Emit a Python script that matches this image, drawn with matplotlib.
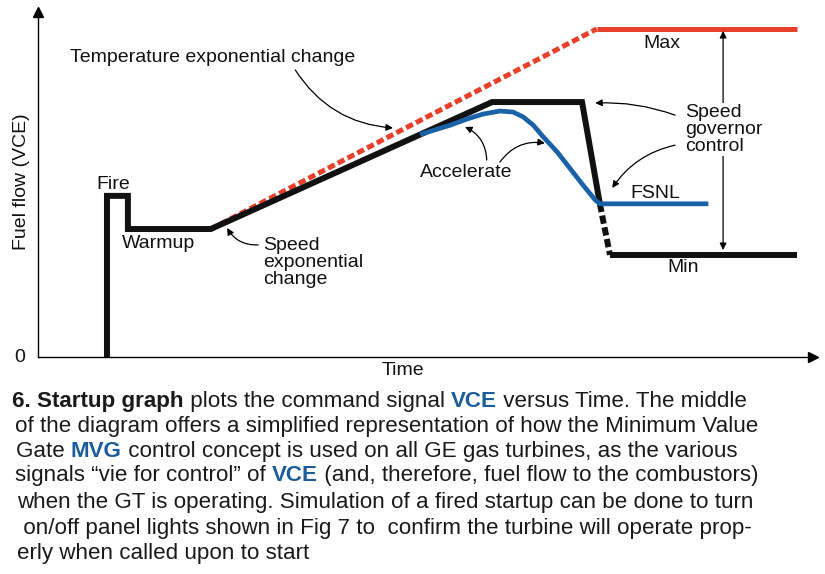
import matplotlib
matplotlib.use("Agg")
import matplotlib.pyplot as plt

# ---- data (time and fuel flow in arbitrary 0-100 units) ----
vce_t = [8.9, 8.9, 11.6, 11.6, 22.3, 58.6, 70.2, 72.5]
vce_f = [0, 46.7, 46.7, 37.1, 37.1, 73.9, 73.9, 44.4]
drop_t = [72.5, 73.8]
drop_f = [44.4, 29.6]
min_t = [73.8, 97.9]
min_f = [29.6, 29.6]
temp_t = [22.3, 72.1]
temp_f = [37.1, 95.1]
max_t = [72.1, 97.9]
max_f = [95.1, 95.1]
accel_t = [49.3, 53.2, 55.4, 57.4, 59.6, 61.3, 62.6, 63.9, 65.2, 67.0, 68.6, 70.3, 71.9, 72.5, 86.5]
accel_f = [64.5, 67.2, 69.0, 70.4, 71.3, 71.0, 69.6, 67.2, 63.8, 59.4, 54.8, 49.9, 45.5, 44.4, 44.4]

caption = [
    [("6. Startup graph", "k", "bold"), (" plots the command signal ", "k", "normal"),
     ("VCE", "b", "bold"), (" versus Time. The middle", "k", "normal")],
    [("of the diagram offers a simplified representation of how the Minimum Value", "k", "normal")],
    [("Gate ", "k", "normal"), ("MVG", "b", "bold"),
     (" control concept is used on all GE gas turbines, as the various", "k", "normal")],
    [("signals \u201cvie for control\u201d of ", "k", "normal"), ("VCE", "b", "bold"),
     (" (and, therefore, fuel flow to the combustors)", "k", "normal")],
    [("when the GT is operating. Simulation of a fired startup can be done to turn", "k", "normal")],
    [(" on/off panel lights shown in Fig 7 to  confirm the turbine will operate prop-", "k", "normal")],
    [("erly when called upon to start", "k", "normal")],
]
caption_x = [12, 15, 16, 15, 17, 17, 17]
caption_base = [407, 432, 457, 481, 508, 534, 559]

BLACK = "#111111"
RED = "#e8402a"
BLUE = "#1a62a8"
TXT_BLUE = "#1d5c9a"
FONT = "Liberation Sans"

W, H = 825, 574
fig = plt.figure(figsize=(W / 100, H / 100), dpi=100)
ax = fig.add_axes([38 / W, (H - 357) / H, 775 / W, 345 / H])
ax.set_xlim(0, 100)
ax.set_ylim(0, 100)
ax.set_xticks([])
ax.set_yticks([])
for s in ["top", "right"]:
    ax.spines[s].set_visible(False)
for s in ["left", "bottom"]:
    ax.spines[s].set_linewidth(1.0)
ax.plot(1, 0, ">k", ms=7, transform=ax.transAxes, clip_on=False)
ax.plot(0, 1, "^k", ms=7, transform=ax.transAxes, clip_on=False)

# lines
ax.plot(temp_t, temp_f, color=RED, lw=3.6, dashes=(1.5, 0.7), solid_capstyle="butt")
ax.plot(max_t, max_f, color=RED, lw=3.6, solid_capstyle="butt")
ax.plot(vce_t, vce_f, color=BLACK, lw=4.3, solid_joinstyle="miter", solid_capstyle="butt")
ax.plot(drop_t, drop_f, color=BLACK, lw=4.3, dashes=(1.4, 0.6))
ax.plot(min_t, min_f, color=BLACK, lw=4.3, solid_capstyle="butt")
ax.plot(accel_t, accel_f, color=BLUE, lw=3.4, solid_capstyle="butt")

tkw = dict(fontsize=14, family=FONT, color="#111111")
arw = dict(arrowstyle="-|>", color="k", lw=0.9, mutation_scale=10, shrinkA=0, shrinkB=0)

ax.text(4.1, 86.7, "Temperature exponential change", ha="left", va="center", **tkw)
ax.annotate("", xy=(45.8, 66.4), xytext=(33.2, 83.2),
            arrowprops=dict(arw, connectionstyle="arc3,rad=0.25"))
ax.text(9.7, 50.1, "Fire", ha="center", va="center", **tkw)
ax.text(15.5, 33.0, "Warmup", ha="center", va="center", **tkw)
ax.text(29.0, 34.8, "Speed\nexponential\nchange", ha="left", va="top", linespacing=1.0, **tkw)
ax.annotate("", xy=(24.4, 37.4), xytext=(28.4, 32.5),
            arrowprops=dict(arw, connectionstyle="arc3,rad=-0.3"))
ax.text(55.2, 53.6, "Accelerate", ha="center", va="center", **tkw)
ax.annotate("", xy=(55.1, 66.7), xytext=(57.9, 57.1),
            arrowprops=dict(arw, connectionstyle="arc3,rad=0.3"))
ax.annotate("", xy=(65.4, 62.0), xytext=(59.6, 56.5),
            arrowprops=dict(arw, connectionstyle="arc3,rad=-0.3"))
ax.annotate("", xy=(88.4, 94.5), xytext=(88.4, 31.0),
            arrowprops=dict(arrowstyle="<|-|>", color="k", lw=0.9, mutation_scale=10,
                            shrinkA=0, shrinkB=0))
ax.text(83.5, 73.3, "Speed\ngovernor\ncontrol", ha="left", va="top", linespacing=1.0,
        bbox=dict(fc="white", ec="none", pad=1), **tkw)
ax.annotate("", xy=(71.9, 73.6), xytext=(82.2, 70.1),
            arrowprops=dict(arw, connectionstyle="arc3,rad=0.1"))
ax.annotate("", xy=(74.1, 49.0), xytext=(82.2, 61.4),
            arrowprops=dict(arw, connectionstyle="arc3,rad=0.2"))
ax.text(79.6, 47.5, "FSNL", ha="center", va="center", **tkw)
ax.text(80.5, 91.0, "Max", ha="center", va="center", **tkw)
ax.text(83.2, 25.8, "Min", ha="center", va="center", **tkw)
ax.text(-2.3, 0, "0", ha="center", va="center", clip_on=False, **tkw)
ax.text(47.1, -3.8, "Time", ha="center", va="center", clip_on=False, **tkw)
ax.text(-2.1, 50.7, "Fuel flow (VCE)", ha="center", va="center", rotation=90,
        clip_on=False, **tkw)

# caption, drawn piece by piece so the colored words line up
fig.canvas.draw()
renderer = fig.canvas.get_renderer()
probe = fig.text(0, 0, caption[1][0][0], fontsize=16, family=FONT)
cap_fs = 16 * (756 - 15) / probe.get_window_extent(renderer).width
probe.remove()
for pieces, x0, y0 in zip(caption, caption_x, caption_base):
    x = x0
    for txt, col, wt in pieces:
        t = fig.text(x / W, 1 - y0 / H, txt, fontsize=cap_fs, family=FONT, weight=wt,
                     color=TXT_BLUE if col == "b" else "#1a1a1a", ha="left", va="baseline")
        x += t.get_window_extent(renderer).width

fig.savefig("out.png", dpi=100)
